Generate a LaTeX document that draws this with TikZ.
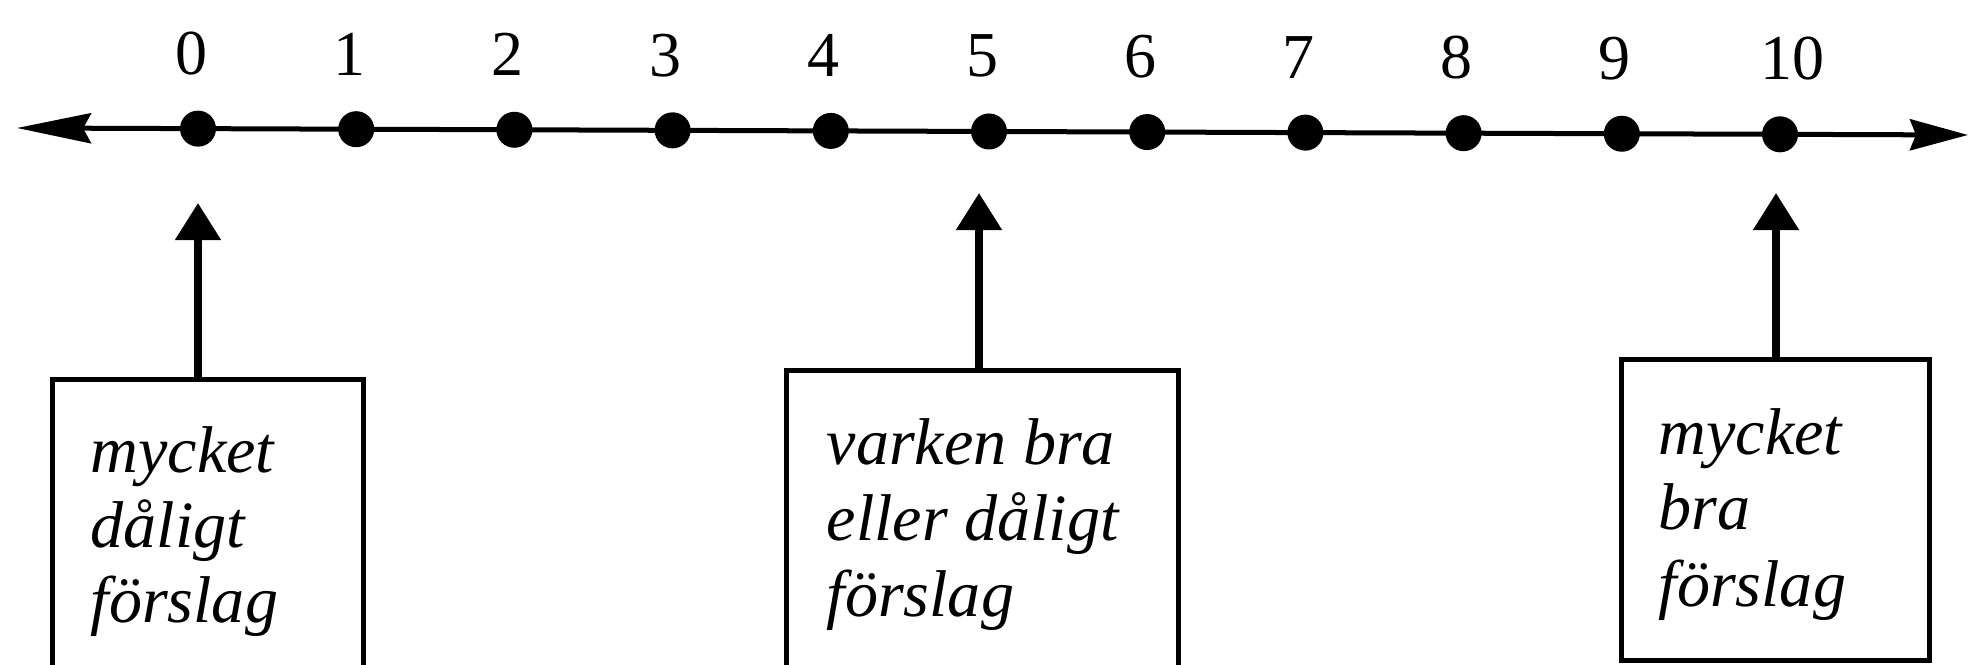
\documentclass[tikz,border=0pt]{standalone}
\usepackage{fontspec}
\setmainfont{Liberation Serif}
\usetikzlibrary{arrows.meta,calc}
\begin{document}
\begin{tikzpicture}[x=0.01cm,y=-0.01cm,
  dot/.style={circle,fill=black,inner sep=0pt,minimum size=0.36cm},
  numlab/.style={inner sep=0pt,font=\fontsize{18.2pt}{21pt}\selectfont},
  axis/.style={line width=0.05cm,{Stealth[length=0.74cm,width=0.3cm,inset=0.08cm]}-{Stealth[length=0.58cm,width=0.31cm,inset=0.06cm]}},
  pointer/.style={line width=0.08cm,-{Triangle[length=0.37cm,width=0.44cm]}},
  answerbox/.style={draw,line width=0.05cm,inner sep=0pt},
  boxtext/.style={anchor=base west,inner sep=0pt,font=\fontsize{18.8pt}{22pt}\selectfont\itshape}]
\useasboundingbox (0,0) rectangle (1970,665);
\clip (0,0) rectangle (1970,665);
% axis
\coordinate (L) at (17,128);
\coordinate (R) at (1968,135);
\draw[axis] (L) -- (R);
% dots and labels
\foreach \i in {0,...,10} {
  \node[dot] (d\i) at ({198+158.2*\i},{128.65+0.568*\i}) {};
}
\foreach \i in {0,...,9} {
  \node[numlab] (l\i) at ({191+158.2*\i},{53.5+0.55*\i}) {\i};
}
\node[numlab] (l10) at (1792,59) {10};
% boxes
\node[answerbox,minimum width=3.10cm,minimum height=3.80cm] (b0) at (208,570) {};
\node[answerbox,minimum width=3.91cm,minimum height=3.89cm] (b5) at (982.5,565.5) {};
\node[answerbox,minimum width=3.07cm,minimum height=3.00cm] (b10) at (1775.5,510) {};
% pointers
\coordinate (a0) at (198,203);
\coordinate (a5) at (979,193);
\coordinate (a10) at (1776,193);
\draw[pointer] (b0.north -| a0) -- (a0);
\draw[pointer] (b5.north -| a5) -- (a5);
\draw[pointer] (b10.north -| a10) -- (a10);
% texts
\node[boxtext] (t0a) at (90,473) {mycket};
\node[boxtext] (t0b) at (90,548) {dåligt};
\node[boxtext] (t0c) at (90,623) {förslag};
\node[boxtext] (t5a) at (826,465) {varken bra};
\node[boxtext] (t5b) at (826,541) {eller dåligt};
\node[boxtext] (t5c) at (826,617) {förslag};
\node[boxtext] (t10a) at (1658,455) {mycket};
\node[boxtext] (t10b) at (1658,530) {bra};
\node[boxtext] (t10c) at (1658,607) {förslag};
\end{tikzpicture}
\end{document}
